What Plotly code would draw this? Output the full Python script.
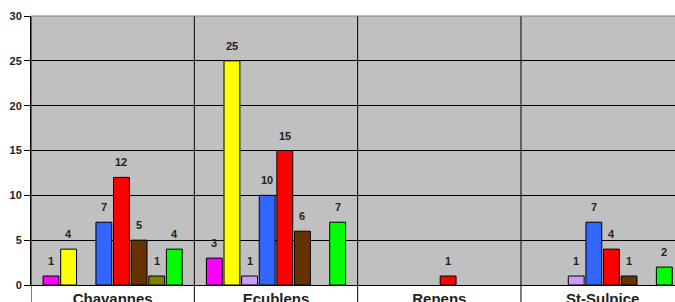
import plotly.graph_objects as go

categories = ["Chavannes", "Ecublens", "Renens", "St-Sulpice"]
series_colors = ["#FF00FF", "#FFFF00", "#CC99FF", "#3366FF", "#FF0000", "#663300", "#808000", "#00FF00"]
s1 = [1, 3, 0, 0]
s2 = [4, 25, 0, 0]
s3 = [0, 1, 0, 1]
s4 = [7, 10, 0, 7]
s5 = [12, 15, 1, 4]
s6 = [5, 6, 0, 1]
s7 = [1, 0, 0, 0]
s8 = [4, 7, 0, 2]
series = [s1, s2, s3, s4, s5, s6, s7, s8]
yticks = [0, 5, 10, 15, 20, 25, 30]

FONT = "Liberation Sans, Arial, sans-serif"
BARGAP = 0.137
nser = len(series)
slot = (1 - BARGAP) / nser

fig = go.Figure()
for j, (vals, col) in enumerate(zip(series, series_colors)):
    fig.add_trace(go.Bar(
        x=categories, y=[v if v else None for v in vals],
        marker=dict(color=col, line=dict(color="black", width=1)),
        showlegend=False, hoverinfo="skip",
    ))
    for i, v in enumerate(vals):
        if v:
            fig.add_annotation(
                x=i - (1 - BARGAP) / 2 + (j + 0.5) * slot, y=v,
                xref="x", yref="y", text="<b>%d</b>" % v, showarrow=False,
                yanchor="middle", xanchor="center", yshift=15,
                font=dict(family=FONT, size=11, color="#222"),
            )

for i in range(len(categories)):
    fig.add_shape(type="line", xref="x", yref="paper",
                  x0=i - 0.5, x1=i - 0.5, y0=-0.1, y1=1,
                  line=dict(color="black", width=1), layer="below")

fig.add_shape(type="line", xref="paper", yref="paper", x0=0, x1=1, y0=1, y1=1,
              line=dict(color="#808080", width=1))

fig.update_layout(
    width=675, height=302,
    margin=dict(l=31, r=0, t=16, b=17),
    paper_bgcolor="white", plot_bgcolor="#C0C0C0",
    barmode="group", bargap=BARGAP, bargroupgap=0.1,
    font=dict(family=FONT, color="#222"),
    xaxis=dict(type="category", range=[-0.5, 3.443], showgrid=False, automargin=False,
               showline=True, linecolor="black", linewidth=1,
               ticks="", tickfont=dict(family=FONT, size=15, color="#222", weight="bold"),
               ticklabelstandoff=0),
    yaxis=dict(range=[0, 30], tickvals=yticks, showgrid=True, gridcolor="black", gridwidth=1,
               automargin=False,
               showline=True, linecolor="black", linewidth=1,
               ticks="outside", ticklen=6, tickcolor="black",
               tickfont=dict(family=FONT, size=11, color="#222", weight="bold"),
               zeroline=False),
)

fig.write_html(
    "out.html",
    config={"displayModeBar": False},
    post_script="document.body.style.margin='0';document.body.style.overflow='hidden';",
)
